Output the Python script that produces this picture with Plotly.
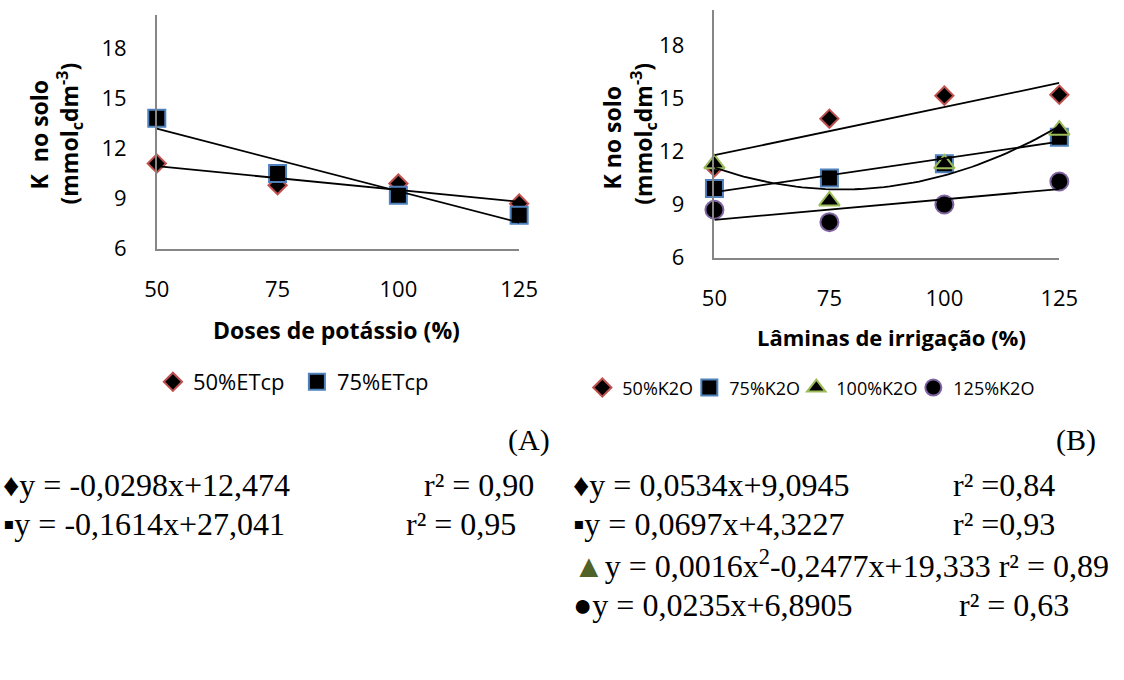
import numpy as np
import plotly.graph_objects as go

# ---- data -------------------------------------------------------------
doses_k = [50, 75, 100, 125]             # potassium doses (%)
k_50etcp = [11.1, 9.8, 9.9, 8.7]         # 50% ETcp
k_75etcp = [13.8, 10.5, 9.2, 8.0]        # 75% ETcp

laminas = [50, 75, 100, 125]             # irrigation depths (%)
k_50k2o = [11.1, 13.85, 15.15, 15.2]
k_75k2o = [9.9, 10.5, 11.3, 12.8]
k_100k2o = [11.3, 9.2, 11.3, 13.2]
k_125k2o = [8.7, 8.0, 9.0, 10.3]

y_ticks = [6, 9, 12, 15, 18]
x_ticks = [50, 75, 100, 125]

W, H = 1124, 680
SANS = "Open Sans"
SERIF = "Liberation Serif"

RED, BLUE, GREEN, PURPLE = "#C0504D", "#4F81BD", "#9BBB59", "#8064A2"


def px(x):
    return x / W


def py(y):
    return 1 - y / H


fig = go.Figure()


def add_series(x, y, name, symbol, size, edge, xa, ya, legend, lw):
    fig.add_trace(go.Scatter(
        x=x, y=y, mode="markers", name=name, xaxis=xa, yaxis=ya,
        legend=legend, legendwidth=lw, cliponaxis=False,
        marker=dict(symbol=symbol, size=size, color="black",
                    line=dict(color=edge, width=2)),
    ))


def add_trend(x, y, xa, ya, degree=1):
    coef = np.polyfit(x, y, degree)
    xs = np.linspace(min(x), max(x), 60)
    fig.add_trace(go.Scatter(
        x=xs, y=np.polyval(coef, xs), mode="lines", showlegend=False,
        xaxis=xa, yaxis=ya, cliponaxis=False, hoverinfo="skip",
        line=dict(color="black", width=1.8),
    ))


# panel A
add_series(doses_k, k_50etcp, "50%ETcp", "diamond", 14, RED, "x", "y", "legend", 99)
add_series(doses_k, k_75etcp, "75%ETcp", "square", 17, BLUE, "x", "y", "legend", 99)
add_trend(doses_k, k_50etcp, "x", "y")
add_trend(doses_k, k_75etcp, "x", "y")

# panel B
add_series(laminas, k_50k2o, "50%K2O", "diamond", 14, RED, "x2", "y2", "legend2", 62)
add_series(laminas, k_75k2o, "75%K2O", "square", 17, BLUE, "x2", "y2", "legend2", 62)
add_series(laminas, k_100k2o, "100%K2O", "triangle-up", 18, GREEN, "x2", "y2", "legend2", 72)
add_series(laminas, k_125k2o, "125%K2O", "circle", 18, PURPLE, "x2", "y2", "legend2", 90)
add_trend(laminas, k_50k2o, "x2", "y2")
add_trend(laminas, k_75k2o, "x2", "y2")
add_trend(laminas, k_100k2o, "x2", "y2", degree=2)
add_trend(laminas, k_125k2o, "x2", "y2")

axis_common = dict(
    showline=True, linecolor="#868686", linewidth=1.5, showgrid=False,
    zeroline=False, ticks="", tickfont=dict(family=SANS, size=22, color="black"),
)

fig.update_layout(
    width=W, height=H, margin=dict(l=0, r=0, t=0, b=0),
    paper_bgcolor="white", plot_bgcolor="white",
    xaxis=dict(domain=[px(148), px(521)], range=[50, 125], tickvals=x_ticks,
               anchor="y", ticklabelstandoff=20, **axis_common),
    yaxis=dict(domain=[py(254), py(15)], range=[6, 20], tickvals=y_ticks,
               anchor="x", ticklabelstandoff=24, **axis_common),
    xaxis2=dict(domain=[px(722), px(1077)], range=[50, 125], tickvals=x_ticks,
                anchor="y2", ticklabelstandoff=20, **axis_common),
    yaxis2=dict(domain=[py(263), py(10)], range=[6, 20], tickvals=y_ticks,
                anchor="x2", ticklabelstandoff=24, **axis_common),
    legend=dict(orientation="h", x=px(144), y=py(390), xanchor="left",
                yanchor="middle",
                font=dict(family=SANS, size=22, color="black")),
    legend2=dict(orientation="h", x=px(586), y=py(396), xanchor="left",
                 yanchor="middle",
                 font=dict(family=SANS, size=18, color="black")),
)

ann = []


def text(x, y, s, size, family=SANS, bold=False, angle=0, xanchor="center"):
    ann.append(dict(
        x=px(x), y=py(y), xref="paper", yref="paper", showarrow=False,
        text=f"<b>{s}</b>" if bold else s, textangle=angle, xanchor=xanchor,
        yanchor="middle", font=dict(family=family, size=size, color="black"),
    ))


# axis titles
text(27, 137, "K\u00a0 no solo", 23, bold=True, angle=-90)
text(58, 136, "(mmol<sub>c</sub>dm<sup>-3</sup>)", 23, bold=True, angle=-90)
text(333, 337, "Doses de potássio (%)", 23, bold=True)
text(617, 140, "K no solo", 23, bold=True, angle=-90)
text(649, 137, "(mmol<sub>c</sub>dm<sup>-3</sup>)", 23, bold=True, angle=-90)
text(904, 344, "Lâminas de irrigação (%)", 22, bold=True)

# panel tags
EQ = 32
text(531, 449, "(A)", 30, family=SERIF)
text(1094, 449, "(B)", 30, family=SERIF)

# regression equations
text(-12, 495, "♦y = -0,0298x+12,474", EQ, family=SERIF, xanchor="left")
text(480, 495, "r² = 0,90", EQ, family=SERIF)
text(-12, 535, "▪y = -0,1614x+27,041", EQ, family=SERIF, xanchor="left")
text(461, 535, "r² = 0,95", EQ, family=SERIF)

text(574, 495, "♦y = 0,0534x+9,0945", EQ, family=SERIF, xanchor="left")
text(1020, 495, "r² =0,84", EQ, family=SERIF)
text(574, 535, "▪y = 0,0697x+4,3227", EQ, family=SERIF, xanchor="left")
text(1020, 535, "r² =0,93", EQ, family=SERIF)
text(574, 576,
     "<span style='color:#4F6228'>▲</span>y = 0,0016x<sup>2</sup>-0,2477x+19,333 r² = 0,89",
     EQ, family=SERIF, xanchor="left")
text(574, 618, "●y = 0,0235x+6,8905", EQ, family=SERIF, xanchor="left")
text(1030, 618, "r² = 0,63", EQ, family=SERIF)

fig.update_layout(annotations=ann)

fig.write_html("out.html")
